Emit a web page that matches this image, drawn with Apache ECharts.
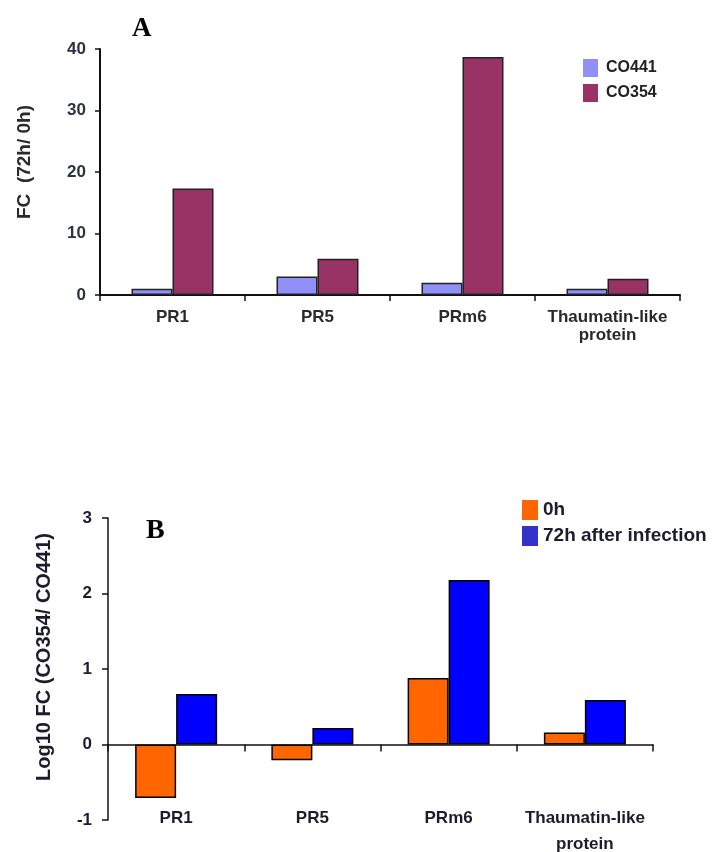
<!DOCTYPE html>
<html>
<head>
<meta charset="utf-8">
<script src="https://cdn.jsdelivr.net/npm/echarts@6/dist/echarts.min.js"></script>
<style>
html,body{margin:0;padding:0;background:#fff;}
#chart{width:718px;height:852px;}
</style>
</head>
<body>
<div id="chart"></div>
<script>
// Panel A data
const categoriesA = ['PR1', 'PR5', 'PRm6', 'Thaumatin-like\nprotein'];
const seriesNamesA = ['CO441', 'CO354'];
const co441 = [1.0, 3.0, 2.0, 1.0];
const co354 = [17.3, 5.9, 38.7, 2.65];
const yRangeA = [0, 40, 10];
const yNameA = 'FC  (72h/ 0h)';

// Panel B data
const categoriesB = ['PR1', 'PR5', 'PRm6', 'Thaumatin-like\nprotein'];
const seriesNamesB = ['0h', '72h after infection'];
const h0 = [-0.71, -0.21, 0.88, 0.16];
const h72 = [0.67, 0.22, 2.18, 0.59];
const yRangeB = [-1, 3, 1];
const yNameB = 'Log10 FC (CO354/ CO441)';

const SANS = '"Liberation Sans", Arial, sans-serif';
const SERIF = '"Liberation Serif", "Times New Roman", serif';

const chart = echarts.init(document.getElementById('chart'), null, {renderer: 'canvas'});

const option = {
  backgroundColor: '#ffffff',
  animation: false,
  graphic: [
    {type: 'text', left: 132, top: 16, style: {text: 'A', font: 'bold 27px ' + SERIF, fill: '#000'}},
    {type: 'text', left: 146, top: 517, style: {text: 'B', font: 'bold 28px ' + SERIF, fill: '#000'}}
  ],
  legend: [
    {
      data: seriesNamesA,
      orient: 'vertical',
      left: 578, top: 54,
      itemWidth: 15, itemHeight: 18, itemGap: 7,
      icon: 'rect',
      itemStyle: {borderWidth: 0},
      textStyle: {fontFamily: SANS, fontWeight: 'bold', fontSize: 16, color: '#222', padding: [0, 0, 0, 3]}
    },
    {
      data: [
        {name: seriesNamesB[0], itemStyle: {color: '#FF6600', borderWidth: 0}},
        {name: seriesNamesB[1], itemStyle: {color: '#3333CC', borderWidth: 0}}
      ],
      orient: 'vertical',
      left: 517, top: 495,
      itemWidth: 16, itemHeight: 20, itemGap: 6,
      icon: 'rect',
      textStyle: {fontFamily: SANS, fontWeight: 'bold', fontSize: 19, color: '#1c1c2c', padding: [0, 0, 0, 0]}
    }
  ],
  grid: [
    {left: 100, top: 49, width: 580, height: 246, containLabel: false, outerBoundsMode: 'none'},
    {left: 108, top: 518, width: 545, height: 302, containLabel: false, outerBoundsMode: 'none'}
  ],
  xAxis: [
    {
      type: 'category', gridIndex: 0, data: categoriesA,
      axisLine: {show: true, onZero: true, lineStyle: {color: '#111', width: 2}},
      axisTick: {show: true, length: 6, lineStyle: {color: '#111', width: 1.5}},
      axisLabel: {fontFamily: SANS, fontWeight: 'bold', fontSize: 17, color: '#2a2a2a', margin: 13, lineHeight: 18, interval: 0}
    },
    {
      type: 'category', gridIndex: 1, data: categoriesB, position: 'bottom',
      axisLine: {show: true, onZero: true, lineStyle: {color: '#111', width: 1.5}},
      axisTick: {show: true, length: 7, lineStyle: {color: '#111', width: 1.5}},
      axisLabel: {show: false}
    },
    {
      type: 'category', gridIndex: 1, data: categoriesB, position: 'bottom', offset: -15,
      axisLine: {show: false, onZero: false},
      axisTick: {show: false},
      axisLabel: {fontFamily: SANS, fontWeight: 'bold', fontSize: 17, color: '#1c1c2c', margin: 0, lineHeight: 26, interval: 0}
    }
  ],
  yAxis: [
    {
      type: 'value', gridIndex: 0, min: yRangeA[0], max: yRangeA[1], interval: yRangeA[2],
      name: yNameA, nameLocation: 'middle', nameRotate: 90, nameGap: 66,
      nameTextStyle: {fontFamily: SANS, fontWeight: 'bold', fontSize: 19, color: '#2a2a2a', padding: [0, 0, 0, 20]},
      axisLine: {show: true, lineStyle: {color: '#111', width: 2}},
      axisTick: {show: true, length: 5, lineStyle: {color: '#111', width: 1.5}},
      splitLine: {show: false},
      axisLabel: {fontFamily: SANS, fontWeight: 'bold', fontSize: 17, color: '#2a3440', margin: 14}
    },
    {
      type: 'value', gridIndex: 1, min: yRangeB[0], max: yRangeB[1], interval: yRangeB[2],
      name: yNameB, nameLocation: 'middle', nameRotate: 90, nameGap: 54,
      nameTextStyle: {fontFamily: SANS, fontWeight: 'bold', fontSize: 20, color: '#1c1c2c', padding: [0, 0, 0, 24]},
      axisLine: {show: true, lineStyle: {color: '#111', width: 1.5}},
      axisTick: {show: true, length: 6, lineStyle: {color: '#111', width: 1.5}},
      splitLine: {show: false},
      axisLabel: {fontFamily: SANS, fontWeight: 'bold', fontSize: 17, color: '#1c1c2c', margin: 16}
    }
  ],
  series: [
    {
      name: seriesNamesA[0], type: 'bar', xAxisIndex: 0, yAxisIndex: 0, data: co441,
      barWidth: 41, barGap: '0%',
      itemStyle: {color: '#9090F8', borderColor: '#222', borderWidth: 1.5}
    },
    {
      name: seriesNamesA[1], type: 'bar', xAxisIndex: 0, yAxisIndex: 0, data: co354,
      barWidth: 41, barGap: '0%',
      itemStyle: {color: '#993366', borderColor: '#222', borderWidth: 1.5}
    },
    {
      name: seriesNamesB[0], type: 'bar', xAxisIndex: 1, yAxisIndex: 1, data: h0,
      barWidth: 41, barGap: '0%',
      itemStyle: {color: '#FF6600', borderColor: '#000', borderWidth: 1.5}
    },
    {
      name: seriesNamesB[1], type: 'bar', xAxisIndex: 1, yAxisIndex: 1, data: h72,
      barWidth: 41, barGap: '0%',
      itemStyle: {color: '#0000FF', borderColor: '#000', borderWidth: 1.5}
    }
  ]
};

chart.setOption(option);
</script>
</body>
</html>
